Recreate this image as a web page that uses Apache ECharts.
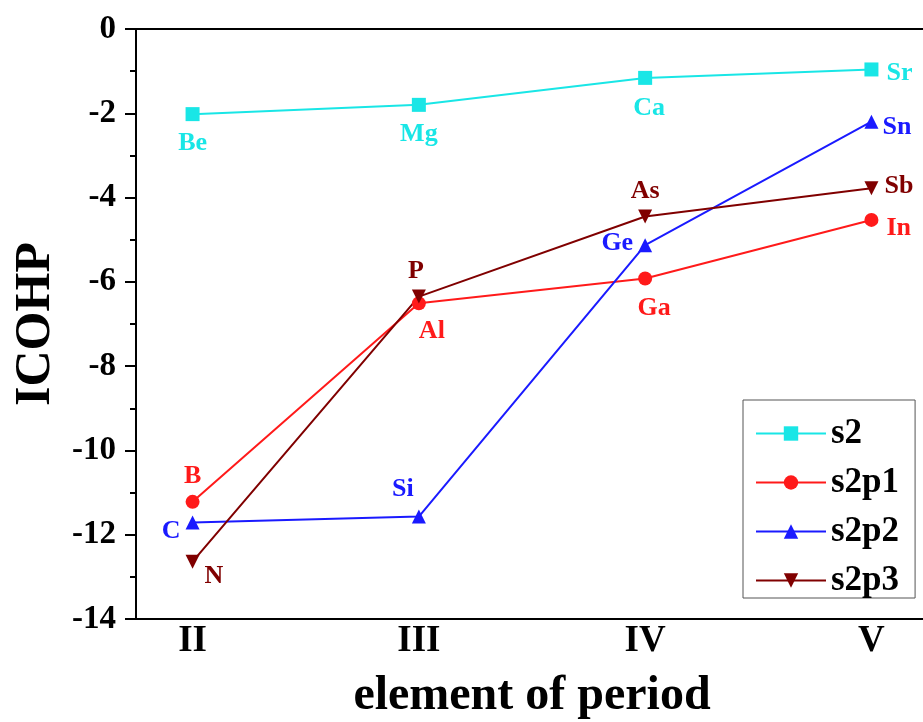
<!DOCTYPE html>
<html>
<head>
<meta charset="utf-8">
<title>ICOHP vs element of period</title>
<script src="https://cdn.jsdelivr.net/npm/echarts@6/dist/echarts.min.js"></script>
<style>
  html, body { margin: 0; padding: 0; background: #fff; }
  #main { width: 923px; height: 722px; }
</style>
</head>
<body>
<div id="main"></div>
<script>
// data
const periods = ['II', 'III', 'IV', 'V'];
const periodPos = [1, 2, 3, 4];

const s2 = [-2.02, -1.80, -1.16, -0.96];
const s2p1 = [-11.22, -6.51, -5.92, -4.53];
const s2p2 = [-11.71, -11.57, -5.13, -2.20];
const s2p3 = [-12.64, -6.35, -4.45, -3.78];

const s2Elements = ['Be', 'Mg', 'Ca', 'Sr'];
const s2p1Elements = ['B', 'Al', 'Ga', 'In'];
const s2p2Elements = ['C', 'Si', 'Ge', 'Sn'];
const s2p3Elements = ['N', 'P', 'As', 'Sb'];

const yTicks = [0, -2, -4, -6, -8, -10, -12, -14];

// where each element name sits round its point
const labelPlace = {
  s2: [['bottom', [0, 4]], ['bottom', [0, 4]], ['bottom', [4, 5]], ['right', [3, 4]]],
  s2p1: [['top', [0, -1]], ['bottom', [13, 3]], ['bottom', [9, 5]], ['right', [3, 8]]],
  s2p2: [['left', [0, 9]], ['top', [-16, -2]], ['left', [0, -2]], ['right', [-1, 6]]],
  s2p3: [['right', [0, 15]], ['top', [-3, 0]], ['top', [0, 0]], ['right', [1, -2]]]
};

const FONT = "'Liberation Serif', 'Times New Roman', serif";

function makeSeries(name, values, elements, places, color, symbol, rotate) {
  return {
    name: name,
    type: 'line',
    symbol: symbol,
    symbolSize: 14,
    symbolRotate: rotate || 0,
    color: color,
    lineStyle: { width: 2, color: color },
    itemStyle: { color: color },
    data: values.map(function (v, i) {
      return {
        value: [periodPos[i], v],
        label: {
          show: true,
          formatter: elements[i],
          position: places[i][0],
          offset: places[i][1],
          distance: 5,
          color: color,
          fontFamily: FONT,
          fontWeight: 'bold',
          fontSize: 26
        }
      };
    })
  };
}

let myChart = echarts.init(document.getElementById('main'));
let option = {
  backgroundColor: '#ffffff',
  animation: false,
  grid: {
    left: 136,
    right: -5,
    top: 29,
    bottom: 103,
    containLabel: false,
    outerBoundsMode: 'none',
    show: true,
    borderColor: '#000',
    borderWidth: 2
  },
  legend: {
    orient: 'vertical',
    left: 743,
    top: 400,
    padding: [16, 16, 0, 12],
    itemWidth: 70,
    itemHeight: 18,
    itemGap: 14,
    borderColor: '#555',
    borderWidth: 1,
    textStyle: {
      fontFamily: FONT,
      fontWeight: 'bold',
      fontSize: 35,
      lineHeight: 34,
      color: '#000'
    },
    data: ['s2', 's2p1', 's2p2', 's2p3']
  },
  xAxis: {
    type: 'value',
    min: 0.75,
    max: 4.25,
    interval: 0.25,
    name: 'element of period',
    nameLocation: 'middle',
    nameGap: 54,
    nameTextStyle: { fontFamily: FONT, fontWeight: 'bold', fontSize: 48, color: '#000' },
    axisLine: { lineStyle: { color: '#000', width: 2 } },
    axisTick: { show: false },
    splitLine: { show: false },
    axisLabel: {
      margin: 4,
      fontFamily: FONT,
      fontWeight: 'bold',
      fontSize: 37,
      color: '#000',
      showMinLabel: false,
      showMaxLabel: false,
      formatter: function (v) {
        const i = periodPos.indexOf(v);
        return i >= 0 ? periods[i] : '';
      }
    }
  },
  yAxis: {
    type: 'value',
    min: yTicks[yTicks.length - 1],
    max: yTicks[0],
    interval: 2,
    name: 'ICOHP',
    nameLocation: 'middle',
    nameGap: 73,
    nameTextStyle: { fontFamily: FONT, fontWeight: 'bold', fontSize: 50, color: '#000' },
    axisLine: { show: true, lineStyle: { color: '#000', width: 2 } },
    axisTick: { show: true, length: 11, lineStyle: { color: '#000', width: 2 } },
    minorTick: { show: true, splitNumber: 2, length: 6, lineStyle: { color: '#000', width: 2 } },
    splitLine: { show: false },
    axisLabel: {
      margin: 20,
      fontFamily: FONT,
      fontWeight: 'bold',
      fontSize: 33,
      color: '#000'
    }
  },
  series: [
    makeSeries('s2', s2, s2Elements, labelPlace.s2, '#19e6e6', 'rect'),
    makeSeries('s2p1', s2p1, s2p1Elements, labelPlace.s2p1, '#ff1a1a', 'circle'),
    makeSeries('s2p2', s2p2, s2p2Elements, labelPlace.s2p2, '#1a1aff', 'triangle'),
    makeSeries('s2p3', s2p3, s2p3Elements, labelPlace.s2p3, '#800000', 'triangle', 180)
  ]
};
myChart.setOption(option);
</script>
</body>
</html>
